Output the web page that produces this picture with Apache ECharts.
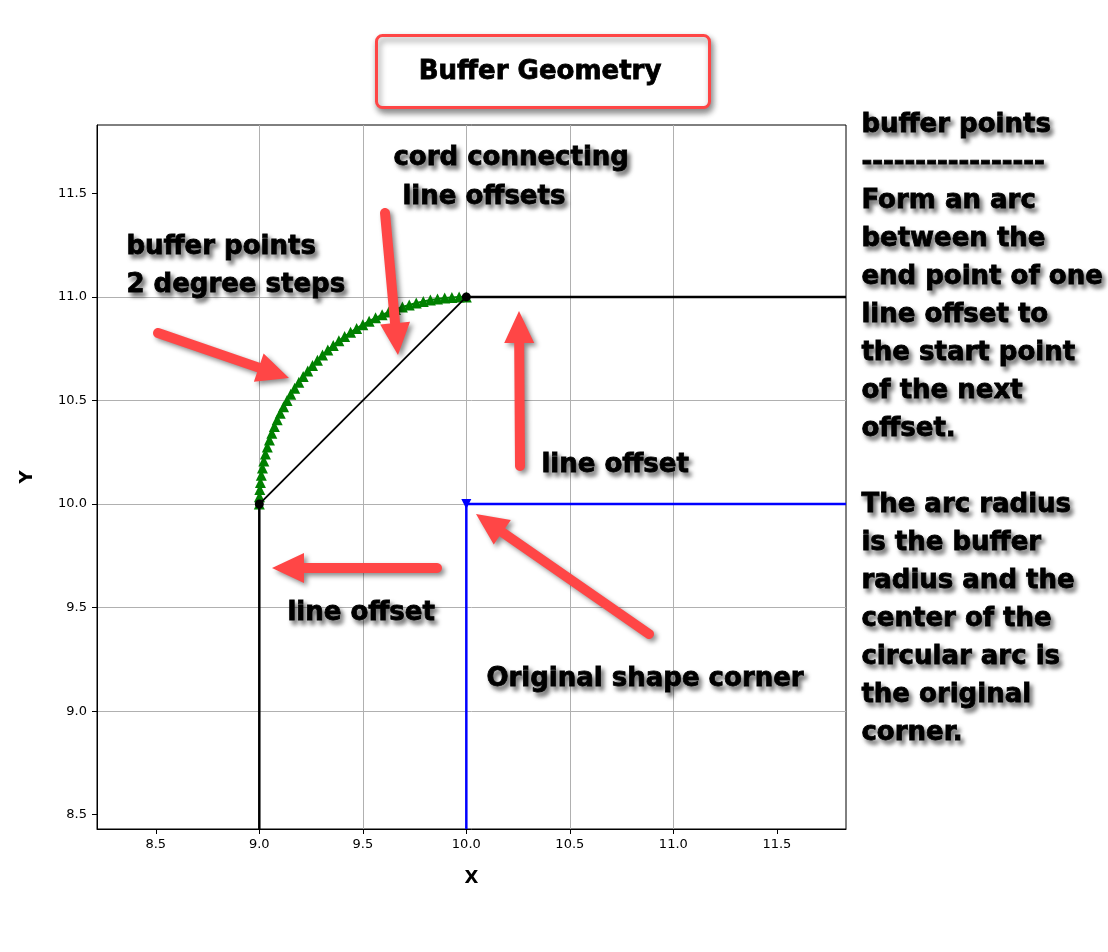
<!DOCTYPE html>
<html>
<head>
<meta charset="utf-8">
<script src="https://cdn.jsdelivr.net/npm/echarts@6/dist/echarts.min.js"></script>
<style>
html,body{margin:0;padding:0;background:#fff;}
#chart{width:1108px;height:952px;}
</style>
</head>
<body>
<div id="chart"></div>
<script>
// ---- data ----
const xTicks = [8.5, 9.0, 9.5, 10.0, 10.5, 11.0, 11.5];
const yTicks = [8.5, 9.0, 9.5, 10.0, 10.5, 11.0, 11.5];
const xRange = [8.216, 11.834];
const yRange = [8.431, 11.830];

// buffer points (2 degree steps)
const arcX = [9.0000, 9.0006, 9.0024, 9.0055, 9.0097, 9.0152, 9.0219, 9.0297, 9.0387, 9.0489,
              9.0603, 9.0728, 9.0865, 9.1012, 9.1171, 9.1340, 9.1520, 9.1710, 9.1910, 9.2120,
              9.2340, 9.2569, 9.2807, 9.3053, 9.3309, 9.3572, 9.3843, 9.4122, 9.4408, 9.4701,
              9.5000, 9.5305, 9.5616, 9.5933, 9.6254, 9.6580, 9.6910, 9.7244, 9.7581, 9.7921,
              9.8264, 9.8608, 9.8955, 9.9302, 9.9651, 10.0000];
const arcY = [10.0000, 10.0349, 10.0698, 10.1045, 10.1392, 10.1736, 10.2079, 10.2419, 10.2756, 10.3090,
              10.3420, 10.3746, 10.4067, 10.4384, 10.4695, 10.5000, 10.5299, 10.5592, 10.5878, 10.6157,
              10.6428, 10.6691, 10.6947, 10.7193, 10.7431, 10.7660, 10.7880, 10.8090, 10.8290, 10.8480,
              10.8660, 10.8829, 10.8988, 10.9135, 10.9272, 10.9397, 10.9511, 10.9613, 10.9703, 10.9781,
              10.9848, 10.9903, 10.9945, 10.9976, 10.9994, 11.0000];

// original shape corner (edges run off the plot)
const origX = [10, 10, 11.834];
const origY = [8.431, 10, 10];
// line offsets
const offsetAX = [9, 9];
const offsetAY = [8.431, 10];
const offsetBX = [10, 11.834];
const offsetBY = [11, 11];
// cord
const cordX = [9, 10];
const cordY = [10, 11];

const zip = (xs, ys) => xs.map((x, i) => [x, ys[i]]);

// ---- styles ----
const RED = '#ff4646';
const FONT = '"DejaVu Sans", "Liberation Sans", sans-serif';
const textShadow = {
  textShadowColor: 'rgba(0,0,0,0.55)',
  textShadowBlur: 4,
  textShadowOffsetX: 3,
  textShadowOffsetY: 4
};

function note(left, top, text, lh) {
  return {
    type: 'text', left: left, top: top, z: 100,
    style: Object.assign({
      text: text, fill: '#000',
      stroke: '#000', lineWidth: 0.8,
      font: 'bold 26px ' + FONT,
      lineHeight: lh || 38
    }, textShadow)
  };
}

function arrow(tail, tip) {
  const w = 5, L = 32, H = 15;
  const dx = tip[0] - tail[0], dy = tip[1] - tail[1];
  const len = Math.sqrt(dx * dx + dy * dy);
  const ux = dx / len, uy = dy / len;
  const nx = -uy, ny = ux;
  const bx = tip[0] - ux * L, by = tip[1] - uy * L;
  const pts = [
    [tail[0] + nx * w, tail[1] + ny * w],
    [bx + nx * w, by + ny * w],
    [bx + nx * H, by + ny * H],
    [tip[0], tip[1]],
    [bx - nx * H, by - ny * H],
    [bx - nx * w, by - ny * w],
    [tail[0] - nx * w, tail[1] - ny * w]
  ];
  for (let k = 1; k < 12; k++) {
    const a = -Math.PI / 2 + Math.PI * k / 12;
    pts.push([tail[0] + w * (-ux * Math.cos(a) + nx * Math.sin(a)),
              tail[1] + w * (-uy * Math.cos(a) + ny * Math.sin(a))]);
  }
  return {
    type: 'polygon', z: 90,
    shape: { points: pts },
    style: {
      fill: RED,
      shadowColor: 'rgba(0,0,0,0.45)',
      shadowBlur: 5,
      shadowOffsetX: 3,
      shadowOffsetY: 3
    }
  };
}

const chart = echarts.init(document.getElementById('chart'), null, { renderer: 'canvas' });

const axisCommon = {
  type: 'value',
  minInterval: 0.5,
  maxInterval: 0.5,
  axisLine: { show: true, onZero: false, lineStyle: { color: '#000', width: 1 } },
  axisTick: { show: true, inside: false, length: 5, lineStyle: { color: '#000', width: 1 } },
  splitLine: { show: true, showMinLine: false, showMaxLine: false, lineStyle: { color: '#b0b0b0', width: 1 } },
  nameTextStyle: { fontFamily: FONT, fontWeight: 'bold', fontSize: 18, color: '#000' }
};

const option = {
  backgroundColor: '#fff',
  animation: false,
  grid: {
    left: 97, top: 125, width: 749, height: 704,
    show: true, borderColor: '#000', borderWidth: 1, backgroundColor: 'transparent',
    containLabel: false
  },
  xAxis: Object.assign({}, axisCommon, {
    min: xRange[0], max: xRange[1],
    name: 'X', nameLocation: 'middle', nameGap: 40,
    axisTick: Object.assign({}, axisCommon.axisTick, { customValues: xTicks }),
    axisLabel: {
      customValues: xTicks, margin: 9, color: '#000', fontSize: 13, fontFamily: FONT,
      formatter: v => v.toFixed(1)
    }
  }),
  yAxis: Object.assign({}, axisCommon, {
    min: yRange[0], max: yRange[1],
    name: 'Y', nameLocation: 'middle', nameGap: 61,
    axisTick: Object.assign({}, axisCommon.axisTick, { customValues: yTicks }),
    axisLabel: {
      customValues: yTicks, margin: 10, color: '#000', fontSize: 13, fontFamily: FONT,
      formatter: v => v.toFixed(1)
    }
  }),
  series: [
    {
      name: 'original', type: 'line', clip: true,
      data: zip(origX, origY).map((p, i) => ({
        value: p,
        symbol: i === 1 ? 'triangle' : 'none'
      })),
      symbolSize: 10, symbolRotate: 180, showSymbol: true,
      lineStyle: { color: '#0000ff', width: 2.5 },
      itemStyle: { color: '#0000ff' },
      z: 2
    },
    {
      name: 'buffer points', type: 'line', clip: true,
      data: zip(arcX, arcY),
      symbol: 'triangle', symbolSize: 11, showSymbol: true,
      lineStyle: { color: '#008000', width: 2 },
      itemStyle: { color: '#008000' },
      z: 3
    },
    {
      name: 'offsetA', type: 'line', clip: true,
      data: zip(offsetAX, offsetAY), symbol: 'none',
      lineStyle: { color: '#000', width: 2.5 }, z: 4
    },
    {
      name: 'offsetB', type: 'line', clip: true,
      data: zip(offsetBX, offsetBY), symbol: 'none',
      lineStyle: { color: '#000', width: 2.5 }, z: 4
    },
    {
      name: 'cord', type: 'line', clip: true,
      data: zip(cordX, cordY),
      symbol: 'circle', symbolSize: 9, showSymbol: true,
      lineStyle: { color: '#000', width: 1.8 },
      itemStyle: { color: '#000' }, z: 5
    }
  ],
  graphic: [
    // title box
    {
      type: 'rect', left: 375, top: 34, z: 80,
      shape: { width: 333, height: 72, r: 6 },
      style: {
        fill: '#fff', stroke: RED, lineWidth: 3,
        shadowColor: 'rgba(0,0,0,0.45)', shadowBlur: 6, shadowOffsetX: 2, shadowOffsetY: 4
      }
    },
    {
      type: 'text', x: 540, y: 72, z: 81,
      style: {
        text: 'Buffer Geometry', fill: '#000',
        stroke: '#000', lineWidth: 0.8,
        font: 'bold 26px ' + FONT, align: 'center', verticalAlign: 'middle'
      }
    },
    // annotations inside plot
    note(393, 139, 'cord connecting\n line offsets', 39),
    note(126, 228, 'buffer points\n2 degree steps', 38),
    note(541, 446, 'line offset'),
    note(287, 594, 'line offset'),
    note(486, 660, 'Original shape corner'),
    // right-hand explanation
    note(861, 106,
      'buffer points\n-----------------\nForm an arc\nbetween the\nend point of one\nline offset to\nthe start point\nof the next\noffset.\n\nThe arc radius\nis the buffer\nradius and the\ncenter of the\ncircular arc is\nthe original\ncorner.', 38),
    // arrows
    arrow([158, 333], [289, 378]),
    arrow([385, 213], [398, 355]),
    arrow([520, 466], [519, 311]),
    arrow([437, 568], [272, 568]),
    arrow([649, 634], [476, 514])
  ]
};

chart.setOption(option);
</script>
</body>
</html>
